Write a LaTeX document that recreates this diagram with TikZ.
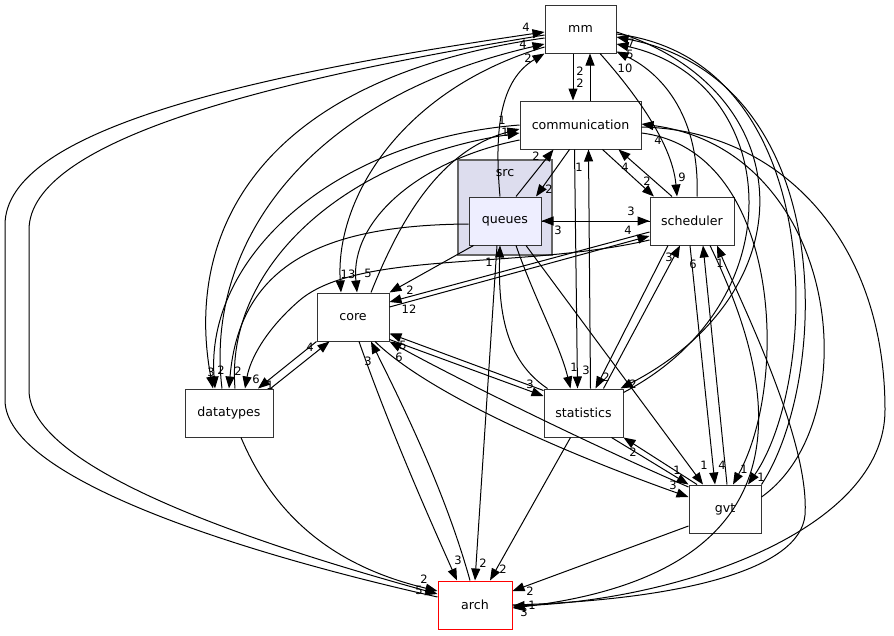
\documentclass[tikz,border=0pt]{standalone}
\usepackage{fontspec}
\setmainfont{DejaVu Sans}
\usepackage{tikz}
\usetikzlibrary{arrows.meta,calc}
\definecolor{srcfill}{HTML}{DDDDEE}
\definecolor{qfill}{HTML}{EEEEFF}
\begin{document}
\begin{tikzpicture}[x=1pt, y=-1pt,
    dir/.style = {draw=black!80, line width=1pt, fill=white, minimum height=48pt, inner sep=0pt, font=\fontsize{12.6}{14}\selectfont},
    srcbox/.style = {draw=black!60, line width=1.3pt, fill=srcfill, minimum width=94pt, minimum height=95pt, inner sep=0pt},
    dep/.style = {-{Triangle[length=12pt,width=9pt]}, line width=1pt},
    lbl/.style = {font=\fontsize{11.5}{13}\selectfont, inner sep=0pt}]
    \useasboundingbox (0,0) rectangle (894,635);
    % cluster
    \node[srcbox] (src) at (505,207.5) {};
    \node[font=\fontsize{12.6}{14}\selectfont, inner sep=0pt] (srclbl) at (505,173) {src};
    % directories
    \node[dir, minimum width=71pt] (mm) at (580.5,29) {mm};
    \node[dir, minimum width=121pt] (comm) at (580.5,125) {communication};
    \node[dir, minimum width=72pt, fill=qfill] (queues) at (505,221) {queues};
    \node[dir, minimum width=84pt] (sched) at (692,221) {scheduler};
    \node[dir, minimum width=72pt] (core) at (353,317) {core};
    \node[dir, minimum width=88pt] (dtypes) at (229,413) {datatypes};
    \node[dir, minimum width=79pt] (stats) at (583.5,413) {statistics};
    \node[dir, minimum width=72pt] (gvt) at (725,509) {gvt};
    \node[dir, minimum width=74pt, draw=red] (arch) at (475,605) {arch};
    % mm / communication / scheduler / queues
    \draw[dep] ($(mm.south)+(-7.5,0)$) -- ($(comm.north)+(-7.5,0)$) node[lbl] at (580,83) {2};
    \draw[dep] ($(comm.north)+(9.5,0)$) -- ($(mm.south)+(9.5,0)$) node[lbl] at (580,71) {2};
    \draw[dep] ($(mm.south)+(19.5,0)$) .. controls (628,85) and (672,140) .. ($(sched.north)+(-15,0)$) node[lbl] at (682,177) {9};
    \draw[dep] ($(comm.south)+(22,0)$) -- ($(sched.north)+(-38,0)$) node[lbl] at (647,181) {2};
    \draw[dep] ($(sched.north)+(-20,0)$) -- ($(comm.south)+(38,0)$) node[lbl] at (625,167) {4};
    \draw[dep] ($(queues.north)+(11,0)$) -- ($(comm.south)+(-27,0)$) node[lbl] at (536,156) {2};
    \draw[dep] ($(comm.south)+(-11,0)$) -- ($(queues.north)+(31,0)$) node[lbl] at (549,189) {2};
    \draw[dep] (queues.east) -- (sched.west) node[lbl] at (631,211) {3};
    \draw[dep] (sched.west) -- (queues.east) node[lbl] at (558,230) {3};
    \draw[dep] ($(sched.west)+(0,11)$) -- ($(core.east)+(0,-15)$) node[lbl] at (409,309) {12};
    \draw[dep] ($(core.east)+(0,-10)$) -- ($(sched.west)+(0,15)$) node[lbl] at (628,230) {4};
    \draw[dep] ($(queues.south west)+(5,0)$) -- (core.north east) node[lbl] at (410,290) {2};
    \draw[dep] ($(queues.north)+(-5,0)$) .. controls (494,130) and (500,80) .. (mm.south west) node[lbl] at (528,58) {2};
    % statistics
    \draw[dep] ($(stats.north)+(7,0)$) -- ($(comm.south)+(8,0)$) node[lbl] at (579,167) {1};
    \draw[dep] ($(comm.south)+(-6,0)$) -- ($(stats.north)+(-6,0)$) node[lbl] at (586,370) {3};
    \draw[dep] ($(queues.south)+(11,0)$) .. controls (535,300) and (560,345) .. ($(stats.north)+(-13,0)$) node[lbl] at (574,367) {1};
    \draw[dep] ($(queues.south)+(21,0)$) -- ($(gvt.north)+(-22,0)$) node[lbl] at (704,465) {1};
    \draw[dep] ($(stats.north west)+(4,0)$) .. controls (505,360) and (498,310) .. ($(queues.south)+(-5,0)$) node[lbl] at (489,262) {1};
    \draw[dep] ($(queues.south)+(-8,0)$) -- (arch.north) node[lbl] at (483,563) {2};
    \draw[dep] ($(stats.south)+(-13,0)$) -- ($(arch.north)+(15,0)$) node[lbl] at (503,569) {2};
    \draw[dep] ($(core.south east)+(0,-2)$) -- ($(stats.west)+(0,-17)$) node[lbl] at (530,384) {3};
    \draw[dep] ($(stats.north west)+(0,2)$) -- ($(core.south east)+(0,-8)$) node[lbl] at (403,345) {5};
    \draw[dep] ($(stats.south)+(28,0)$) -- (gvt.north west) node[lbl] at (677,470) {1};
    \draw[dep] ($(gvt.north)+(-28,0)$) -- (stats.south east) node[lbl] at (633,452) {2};
    \draw[dep] ($(stats.north)+(20,0)$) -- ($(sched.south)+(-12,0)$) node[lbl] at (669,257) {3};
    \draw[dep] ($(sched.south)+(-24,0)$) -- ($(stats.north)+(12,0)$) node[lbl] at (606,377) {2};
    % core
    \draw[dep] ($(core.south)+(6,0)$) .. controls (390,430) and (430,520) .. ($(arch.north)+(-18,0)$) node[lbl] at (458,560) {3};
    \draw[dep] ($(arch.north)+(-5,0)$) .. controls (445,490) and (400,400) .. ($(core.south)+(18,0)$) node[lbl] at (368,361) {3};
    \draw[dep] ($(core.south)+(22,0)$) .. controls (430,395) and (570,455) .. ($(gvt.west)+(0,-12)$) node[lbl] at (673,485) {3};
    \draw[dep] ($(gvt.west)+(0,-22)$) .. controls (580,440) and (450,375) .. (core.south east) node[lbl] at (399,357) {6};
    \draw[dep] (core.south west) -- ($(dtypes.north)+(29,0)$) node[lbl] at (270,385) {1};
    \draw[dep] ($(dtypes.north east)+(-3,0)$) -- ($(core.south west)+(13,0)$) node[lbl] at (310,347) {4};
    \draw[dep] ($(mm.west)+(0,18)$) .. controls (400,90) and (335,200) .. ($(core.north)+(-12,0)$) node[lbl] at (348,274) {13};
    \draw[dep] ($(comm.west)+(0,15)$) .. controls (420,160) and (350,220) .. ($(core.north)+(4,0)$) node[lbl] at (368,273) {5};
    \draw[dep] ($(core.north)+(18,0)$) .. controls (400,220) and (440,150) .. ($(comm.west)+(0,4)$) node[lbl] at (502,120) {1};
    % scheduler / gvt
    \draw[dep] ($(sched.south)+(-2,0)$) -- ($(gvt.north)+(-10,0)$) node[lbl] at (722,465) {4};
    \draw[dep] ($(gvt.north)+(2,0)$) -- ($(sched.south)+(11,0)$) node[lbl] at (693,264) {6};
    \draw[dep] (arch.east) .. controls (680,600) and (800,570) .. (805,515) .. controls (810,440) and (740,300) .. ($(sched.south)+(25,0)$) node[lbl] at (720,263) {1};
    \draw[dep] ($(sched.south)+(18,0)$) .. controls (770,370) and (830,570) .. ($(arch.east)+(0,3)$) node[lbl] at (524,612) {3};
    \draw[dep] ($(gvt.west)+(0,17)$) -- ($(arch.east)+(0,-14)$) node[lbl] at (530,591) {2};
    \draw[dep] ($(comm.east)+(0,2)$) .. controls (780,130) and (885,240) .. (885,410) .. controls (885,530) and (680,600) .. ($(arch.east)+(0,1)$) node[lbl] at (532,605) {1};
    % right side up to mm and communication
    \draw[dep] ($(sched.north)+(5,0)$) .. controls (700,120) and (665,75) .. ($(mm.south east)+(0,-2)$) node[lbl] at (625,68) {10};
    \draw[dep] ($(stats.north east)+(0,4)$) .. controls (800,300) and (780,80) .. ($(mm.east)+(0,15)$) node[lbl] at (630,54) {5};
    \draw[dep] ($(mm.east)+(0,3)$) .. controls (800,90) and (810,290) .. ($(stats.north east)+(-3,0)$) node[lbl] at (633,384) {2};
    \draw[dep] (gvt.north east) .. controls (830,380) and (840,80) .. ($(mm.east)+(0,8)$) node[lbl] at (631,43) {7};
    \draw[dep] ($(mm.east)+(0,5)$) .. controls (830,60) and (820,380) .. ($(gvt.north)+(23,0)$) node[lbl] at (761,477) {1};
    \draw[dep] ($(comm.east)+(0,8)$) .. controls (780,150) and (790,380) .. ($(gvt.north)+(8,0)$) node[lbl] at (744,469) {1};
    \draw[dep] ($(gvt.east)+(0,-12)$) .. controls (870,420) and (840,150) .. ($(comm.east)+(0,-1)$) node[lbl] at (658,140) {4};
    % datatypes
    \draw[dep] ($(mm.west)+(0,9)$) .. controls (250,80) and (185,240) .. ($(dtypes.north)+(-16,0)$) node[lbl] at (211,372) {3};
    \draw[dep] ($(dtypes.north)+(-7,0)$) .. controls (205,250) and (300,100) .. ($(mm.west)+(0,15)$) node[lbl] at (523,44) {4};
    \draw[dep] (comm.west) .. controls (330,140) and (205,260) .. ($(dtypes.north)+(-14,0)$) node[lbl] at (221,370) {2};
    \draw[dep] ($(dtypes.north)+(6,0)$) .. controls (225,270) and (340,160) .. ($(comm.west)+(0,8)$) node[lbl] at (505,132) {1};
    \draw[dep] ($(queues.west)+(0,3)$) .. controls (330,225) and (240,260) .. (dtypes.north) node[lbl] at (238,371) {2};
    \draw[dep] ($(sched.west)+(0,19)$) .. controls (520,270) and (360,250) .. (300,300) .. controls (265,330) and (250,360) .. ($(dtypes.north)+(16,0)$) node[lbl] at (256,379) {6};
    % arch on the left
    \draw[dep] ($(dtypes.south)+(12,0)$) .. controls (280,530) and (350,570) .. ($(arch.west)+(0,-14)$) node[lbl] at (424,579) {2};
    \draw[dep] ($(mm.west)+(0,6)$) .. controls (270,80) and (29,140) .. (29,230) -- (29,390) .. controls (29,470) and (260,545) .. ($(arch.west)+(0,-11)$) node[lbl] at (419,590) {5};
    \draw[dep] ($(arch.west)+(0,-8)$) .. controls (250,555) and (5,480) .. (5,400) -- (5,225) .. controls (5,130) and (250,75) .. ($(mm.west)+(0,3)$) node[lbl] at (526,27) {4};
\end{tikzpicture}
\end{document}
